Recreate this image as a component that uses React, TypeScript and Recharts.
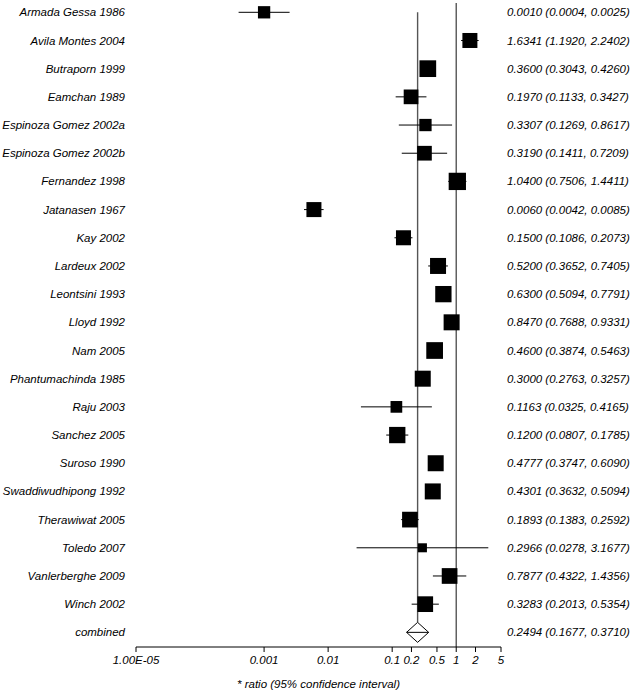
import React from 'react'
import { ScatterChart, Scatter, XAxis, YAxis, ErrorBar, ReferenceLine } from 'recharts'

const studies = [
  'Armada Gessa 1986', 'Avila Montes 2004', 'Butraporn 1999', 'Eamchan 1989',
  'Espinoza Gomez 2002a', 'Espinoza Gomez 2002b', 'Fernandez 1998', 'Jatanasen 1967',
  'Kay 2002', 'Lardeux 2002', 'Leontsini 1993', 'Lloyd 1992', 'Nam 2005',
  'Phantumachinda 1985', 'Raju 2003', 'Sanchez 2005', 'Suroso 1990',
  'Swaddiwudhipong 1992', 'Therawiwat 2005', 'Toledo 2007', 'Vanlerberghe 2009', 'Winch 2002',
]
const estimates = [0.001, 1.6341, 0.36, 0.197, 0.3307, 0.319, 1.04, 0.006, 0.15, 0.52, 0.63, 0.847, 0.46, 0.3, 0.1163, 0.12, 0.4777, 0.4301, 0.1893, 0.2966, 0.7877, 0.3283]
const lower = [0.0004, 1.192, 0.3043, 0.1133, 0.1269, 0.1411, 0.7506, 0.0042, 0.1086, 0.3652, 0.5094, 0.7688, 0.3874, 0.2763, 0.0325, 0.0807, 0.3747, 0.3632, 0.1383, 0.0278, 0.4322, 0.2013]
const upper = [0.0025, 2.2402, 0.426, 0.3427, 0.8617, 0.7209, 1.4411, 0.0085, 0.2073, 0.7405, 0.7791, 0.9331, 0.5463, 0.3257, 0.4165, 0.1785, 0.609, 0.5094, 0.2592, 3.1677, 1.4356, 0.5354]
// box sizes (study weights)
const boxSize = [12.3, 15, 16.7, 14.7, 12.3, 14.7, 17.3, 15, 15, 16, 16.3, 16, 16.7, 16, 11.7, 16.3, 16, 16, 15.7, 9, 15.7, 15.7]

const combined = { label: 'combined', est: 0.2494, lo: 0.1677, hi: 0.371 }

const xTicks = [0.00001, 0.001, 0.01, 0.1, 0.2, 0.5, 1, 2, 5]

const fmt = (v: number) => v.toFixed(4)
const leftLabels = [...studies, combined.label]
const rightLabels = [
  ...estimates.map((e, i) => `${fmt(e)} (${fmt(lower[i])}, ${fmt(upper[i])})`),
  `${fmt(combined.est)} (${fmt(combined.lo)}, ${fmt(combined.hi)})`,
]

const rowData = estimates.map((e, i) => ({
  x: e,
  y: i,
  err: [e - lower[i], upper[i] - e],
  size: boxSize[i],
}))

const cRow = studies.length
const dH = 0.355
const diamond = [
  { x: combined.lo, y: cRow },
  { x: combined.est, y: cRow - dH },
  { x: combined.hi, y: cRow },
  { x: combined.est, y: cRow + dH },
  { x: combined.lo, y: cRow },
  { x: combined.hi, y: cRow },
]

const font = "'Liberation Sans', Arial, sans-serif"
const yTicks = leftLabels.map((_, i) => i)
const yDomain = [-0.33, 22.52]

const Box = (props: any) => {
  const { cx, cy, payload } = props
  const s = payload.size
  return <rect x={cx - s / 2} y={cy - s / 2} width={s} height={s} fill="#000" />
}

const makeTick = (labels: string[], anchor: 'start' | 'end') => (props: any) => {
  const { x, y, payload } = props
  return (
    <text x={x} y={y} dy="0.35em" textAnchor={anchor} fill="#000" fontSize={11.5} fontStyle="italic" fontFamily={font}>
      {labels[payload.value] ?? ''}
    </text>
  )
}

const XTick = (props: any) => {
  const { x, y, payload } = props
  const v = payload.value
  return (
    <text x={x} y={y} dy="0.85em" textAnchor="middle" fill="#000" fontSize={11.5} fontStyle="italic" fontFamily={font}>
      {v === 0.00001 ? '1.00E-05' : String(v)}
    </text>
  )
}

export default function App() {
  return (
    <div style={{ position: 'absolute', left: 0, top: 0, width: 633, height: 692, background: '#fff' }}>
      <ScatterChart width={633} height={692} margin={{ top: 3, right: 0, bottom: 0, left: 0 }}>
        <XAxis
          dataKey="x"
          type="number"
          scale="log"
          domain={[0.00001, 5]}
          allowDataOverflow
          ticks={xTicks}
          interval={0}
          height={45}
          tickSize={5}
          tickMargin={2}
          tick={XTick}
          axisLine={{ stroke: '#000' }}
          tickLine={{ stroke: '#000' }}
          label={{ value: '* ratio (95% confidence interval)', position: 'insideBottom', offset: 4, fill: '#000', fontSize: 11.5, fontStyle: 'italic', fontFamily: font }}
        />
        <YAxis
          yAxisId="left"
          dataKey="y"
          type="number"
          domain={yDomain}
          reversed
          ticks={yTicks}
          interval={0}
          width={136}
          tickSize={0}
          tickMargin={11}
          axisLine={false}
          tickLine={false}
          tick={makeTick(leftLabels, 'end')}
        />
        <YAxis
          yAxisId="right"
          orientation="right"
          dataKey="y"
          type="number"
          domain={yDomain}
          reversed
          ticks={yTicks}
          interval={0}
          width={132}
          tickSize={0}
          tickMargin={6}
          axisLine={false}
          tickLine={false}
          tick={makeTick(rightLabels, 'start')}
        />
        <ReferenceLine yAxisId="left" x={1} stroke="#555" strokeWidth={1.4} />
        <ReferenceLine
          yAxisId="left"
          segment={[{ x: combined.est, y: 0 }, { x: combined.est, y: cRow - dH }]}
          stroke="#555"
          strokeWidth={1.4}
        />
        <Scatter yAxisId="left" data={rowData} shape={Box} isAnimationActive={false}>
          <ErrorBar dataKey="err" direction="x" width={0} stroke="#000" strokeWidth={1} isAnimationActive={false} />
        </Scatter>
        <Scatter
          yAxisId="right"
          data={diamond}
          line={{ stroke: '#000', strokeWidth: 1 }}
          lineJointType="linear"
          shape={() => <g />}
          isAnimationActive={false}
        />
      </ScatterChart>
    </div>
  )
}
